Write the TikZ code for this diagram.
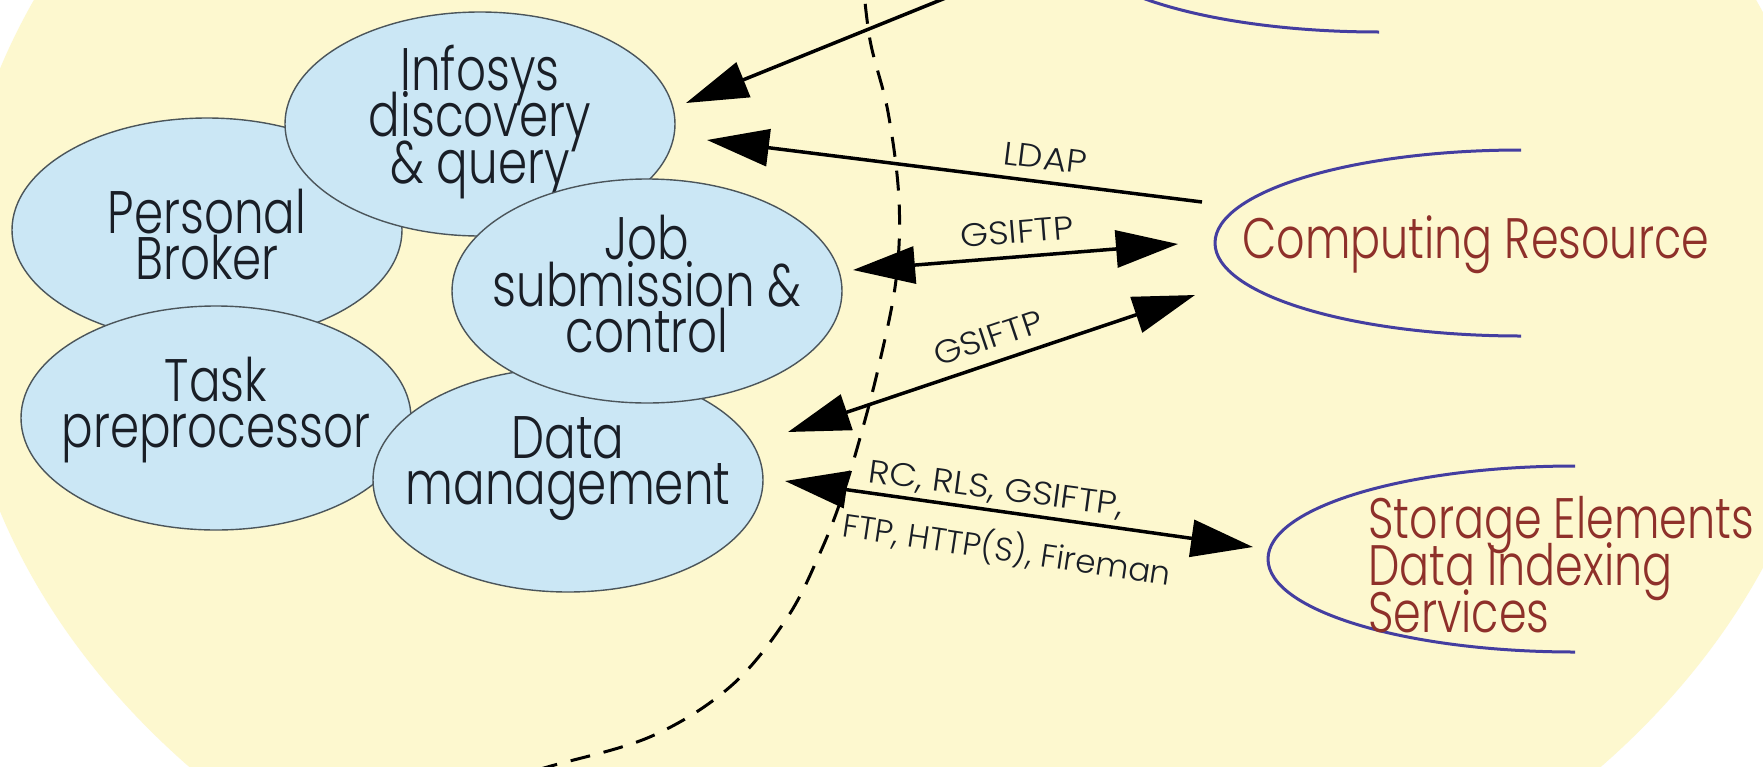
\documentclass[tikz,border=0pt]{standalone}
\usepackage{fontspec}
\setmainfont{Poppins}
\newfontfamily\ellfont{Poppins}[UprightFont=* Light, FakeStretch=0.78]
\newfontfamily\lblfont{Poppins}[UprightFont=* Light]
\newfontfamily\capslblfont{Poppins}[UprightFont=* Light, FakeStretch=1.1]
\newcommand\comptextfont{\ellfont\fontsize{60}{46.5}\selectfont\lineskiplimit-200pt\relax}
\newcommand\restextfont{\ellfont\fontsize{57}{47}\selectfont\lineskiplimit-200pt\relax}
\newcommand\protofont{\lblfont\fontsize{32.5}{34}\selectfont}
\newcommand\capsprotofont{\capslblfont\fontsize{32.5}{34}\selectfont}
\usetikzlibrary{shapes.geometric,arrows.meta}
\definecolor{paper}{RGB}{253,248,207}
\definecolor{cell}{RGB}{203,231,245}
\definecolor{cellline}{RGB}{75,85,90}
\definecolor{inktext}{RGB}{25,30,38}
\definecolor{resred}{RGB}{142,48,42}
\definecolor{resblue}{RGB}{68,62,160}
\begin{document}
\begin{tikzpicture}[x=1pt,y=-1pt,
  component/.style={ellipse, draw=cellline, line width=1.4pt, fill=cell,
    minimum width=390pt, minimum height=224pt, inner sep=0pt},
  comptext/.style={font=\comptextfont, align=center, inner sep=0pt, text=inktext},
  flow/.style={line width=3.5pt, -{Triangle[length=62pt,width=37pt]}},
  twoway/.style={line width=3.5pt,
    {Triangle[length=62pt,width=37pt]}-{Triangle[length=62pt,width=37pt]}},
  proto/.style={font=\protofont, inner sep=0pt, text=inktext},
  capsproto/.style={proto, font=\capsprotofont},
  resarc/.style={draw=resblue, line width=3pt},
  restext/.style={font=\restextfont, text=resred, inner sep=0pt, align=left},
  boundary/.style={line width=3pt, dash pattern=on 20pt off 14pt}
]
\useasboundingbox (0,0) rectangle (1763,766);
\fill[white] (0,0) rectangle (1763,766);
\begin{scope}
\clip (0,0) rectangle (1763,766);

% user domain
\fill[paper] (895,290) ellipse [x radius=940, y radius=722];

% boundary of the local site
\draw[boundary] plot[smooth, tension=0.6] coordinates {
  (862,-30) (870,40) (888,112) (899,200) (896,280) (879,365) (860,438)
  (842,497) (820,553) (787,618) (731,686) (652,736) (551,766) (500,780)};

% client components
\node[component, label={[name=pbT, comptext, yshift=-4.5pt]center:Personal\\Broker}] (pb) at (207,230) {};
\node[component, label={[name=infoT, comptext, yshift=2pt]center:Infosys\\discovery\\\& query}] (info) at (480,124) {};
\node[component, label={[name=taskT, comptext, yshift=8pt]center:Task\\preprocessor}] (task) at (216,418) {};
\node[component, label={[name=dataT, comptext, yshift=11.5pt]center:Data\\management}] (data) at (568,480) {};
\node[component, label={[name=jobT, comptext, yshift=6.5pt]center:Job\\submission \&\\control}] (job) at (647,291) {};

% remote resources
\draw[resarc] (1379,-154) arc[start angle=270, end angle=90, x radius=306, y radius=93];
\draw[resarc] (1521,150) arc[start angle=270, end angle=90, x radius=306, y radius=93];
\node[restext, anchor=base west] (comp) at (1242,258) {Computing Resource};
\draw[resarc] (1575,466) arc[start angle=270, end angle=90, x radius=307, y radius=93];
\node[restext, anchor=north west] (store) at (1368,496)
  {Storage Elements\\Data Indexing\\Services};

% connector end points
\coordinate (infoA) at (686,103);
\coordinate (upper) at (990,-20);
\coordinate (infoB) at (707,140);
\coordinate (compA) at (1202,202);
\coordinate (jobA) at (853,270);
\coordinate (compB) at (1178,244);
\coordinate (dataA) at (788,432);
\coordinate (compC) at (1195,295);
\coordinate (dataB) at (785,481);
\coordinate (storeA) at (1253,547);

% protocols
\draw[flow] (upper) -- (infoA);
\draw[flow] (compA) -- (infoB);
\draw[twoway] (jobA) -- (compB);
\draw[twoway] (dataA) -- (compC);
\draw[twoway] (dataB) -- (storeA);

\node[capsproto, rotate=-7.1] (ldapL) at (1045,158) {LDAP};
\node[capsproto, rotate=4.6] (gsiA) at (1017,232) {GSIFTP};
\node[capsproto, rotate=18.6] (gsiB) at (988,338) {GSIFTP};
\node[capsproto, rotate=-7.6] (rcL) at (996,490) {RC, RLS, GSIFTP,};
\node[proto, rotate=-8.5] (ftpL) at (1007,549) {FTP, HTTP(S), Fireman};
\end{scope}
\end{tikzpicture}
\end{document}
